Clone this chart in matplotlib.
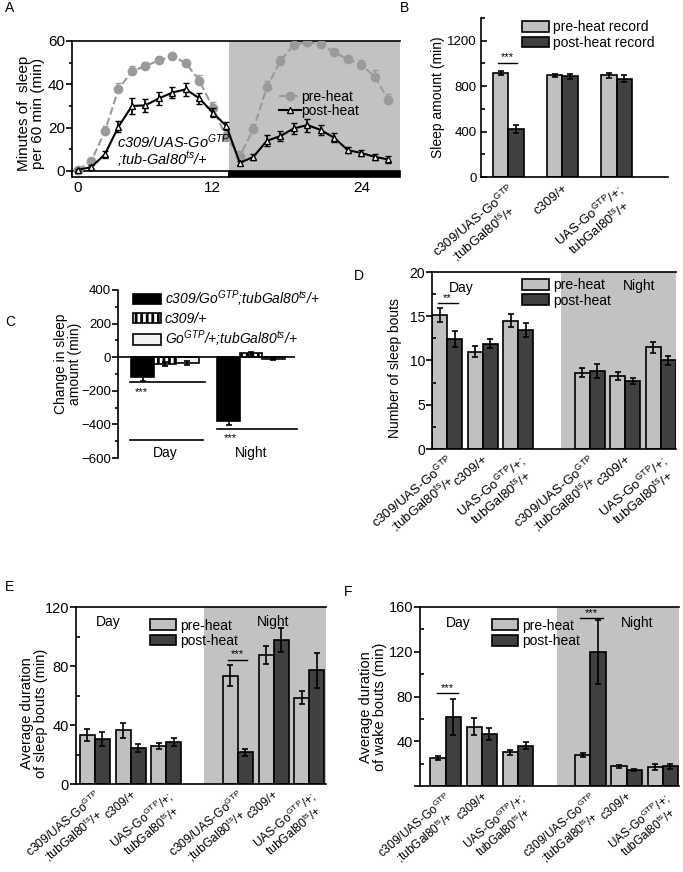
import matplotlib
matplotlib.use("Agg")
import matplotlib.pyplot as plt
from matplotlib.patches import Rectangle, Patch
from matplotlib.lines import Line2D
from matplotlib.ticker import MultipleLocator
import numpy as np

plt.rcParams["font.family"] = ["Liberation Sans", "DejaVu Sans"]
plt.rcParams["mathtext.fontset"] = "custom"
plt.rcParams["mathtext.rm"] = "Liberation Sans"
plt.rcParams["mathtext.it"] = "Liberation Sans:italic"
plt.rcParams["font.size"] = 10
plt.rcParams["axes.linewidth"] = 1.2
plt.rcParams["hatch.linewidth"] = 2.0

# ---- panel A: hourly sleep profile ----
a_hour = list(range(24))
a_pre = [0.5, 4.6, 18.4, 37.7, 46, 48.5, 51, 53, 49.8, 41.7, 29.2, 15.5,
         7, 19.2, 38.6, 50.7, 58.3, 59.4, 58.6, 54.7, 51.6, 49, 43.6, 32.8]
a_pre_err = [0.5, 1.5, 2.5, 3, 2.5, 2, 1.5, 1, 1, 2.5, 2.5, 2.5,
             2, 2.5, 3, 2.5, 1, 0.5, 0.5, 1.5, 1.5, 2, 3, 2.5]
a_post = [0.5, 1.8, 7.7, 20.4, 30, 30.3, 33.5, 36.2, 37.7, 33.5, 26.9, 20.7,
          3.7, 6.5, 13.9, 16.1, 19.6, 21.2, 18.9, 15.3, 9.6, 8.3, 6.5, 5.3]
a_post_err = [0.5, 1, 1.5, 2.5, 3.5, 3, 3, 2.5, 3, 2.5, 2, 2,
              1, 1.5, 2.5, 2.5, 2.5, 3, 2.5, 2, 1.5, 1.5, 1.5, 1.5]
a_tick_labels = ["0", "12", "24"]

# ---- panel B: total sleep ----
b_pre = [915, 895, 895]
b_pre_err = [20, 12, 25]
b_post = [425, 885, 865]
b_post_err = [35, 18, 30]

# ---- panel C: change in sleep ----
c_day = [-118, -40, -32]
c_day_err = [22, 12, 12]
c_night = [-382, 24, -12]
c_night_err = [20, 8, 5]
c_labels = [r"c309/Go$^{GTP}$;tubGal80$^{ts}$/+", "c309/+",
            r"Go$^{GTP}$/+;tubGal80$^{ts}$/+"]

# ---- panel D/E/F ----
d_pre = [15.1, 11.0, 14.5, 8.6, 8.3, 11.5]
d_pre_err = [0.8, 0.6, 0.7, 0.5, 0.45, 0.6]
d_post = [12.4, 11.9, 13.4, 8.8, 7.7, 10.0]
d_post_err = [0.9, 0.5, 0.8, 0.8, 0.35, 0.5]

e_pre = [33, 36.5, 26, 73.5, 87.5, 58.5]
e_pre_err = [4, 5, 2, 7, 6, 4.5]
e_post = [30.5, 24.5, 28.5, 21.5, 97.5, 77]
e_post_err = [5, 2.5, 2.5, 2.5, 8, 12]

f_pre = [25, 53, 30, 27.5, 17.5, 17]
f_pre_err = [2, 7.5, 2, 2, 1.5, 2.5]
f_post = [61.5, 46.5, 36, 120, 14, 17.5]
f_post_err = [16, 5, 3, 28.5, 1, 2]

geno_labels = [r"c309/UAS-Go$^{\mathrm{GTP}}$" + "\n" + r";tubGal80$^{\mathrm{ts}}$/+",
               "c309/+",
               r"UAS-Go$^{\mathrm{GTP}}$/+;" + "\n" + r"tubGal80$^{\mathrm{ts}}$/+"]

LIGHT = "#c0c0c0"
DARK = "#404040"
SHADE = "#c2c2c2"

W, H = 683, 872
fig = plt.figure(figsize=(W / 100, H / 100), dpi=100)


def px_axes(left, top, right, bottom):
    return fig.add_axes([left / W, 1 - bottom / H, (right - left) / W, (bottom - top) / H])


def ylab(ax, text, x, y, size):
    ax.set_ylabel(text, va="center", fontsize=size, linespacing=1.0)
    ax.yaxis.set_label_coords(x, y)


ERR = dict(elinewidth=1.2, capthick=1.2)

# ================= A =================
ax = px_axes(72, 41, 400, 177)
xmin, xmax, split = -0.44, 23.87, 11.23
ax.set_xlim(xmin, xmax)
ax.set_ylim(-2.8, 60)
ax.add_patch(Rectangle((split, 0), xmax - split, 60, color=SHADE, zorder=0, lw=0))
ax.add_patch(Rectangle((xmin, -2.8), split - xmin, 2.8, facecolor="white",
                       edgecolor="black", lw=1.2, zorder=3, clip_on=False))
ax.add_patch(Rectangle((split, -2.8), xmax - split, 2.8, facecolor="black",
                       edgecolor="black", lw=1.2, zorder=3, clip_on=False))
ax.errorbar(a_hour, a_pre, yerr=[np.zeros(24), a_pre_err], fmt="o--", color="#9a9a9a",
            ms=6, lw=1.5, capsize=2.5, elinewidth=1.2, zorder=4)
ax.errorbar(a_hour, a_post, yerr=a_post_err, fmt="^-", color="black", mfc="white",
            ms=5, lw=1.5, capsize=2.5, elinewidth=1.2, zorder=5)
ax.spines["right"].set_visible(False)
ax.spines["bottom"].set_visible(False)
ax.set_yticks([0, 20, 40, 60])
ax.yaxis.set_minor_locator(MultipleLocator(10))
ax.tick_params(axis="y", which="major", length=4, width=1.2, labelsize=11, pad=1)
ax.tick_params(axis="y", which="minor", length=2.5, width=1.2)
ax.set_xticks([0, 10, 21])
ax.set_xticklabels(a_tick_labels)
ax.tick_params(axis="x", length=0, labelsize=11, pad=3)
ylab(ax, "Minutes of  sleep\nper 60 min (min)", -0.125, 0.47, 11)
ax.text(2.9, 0.9, r"c309/UAS-Go$^{GTP}$" + "\n" + r";tub-Gal80$^{ts}$/+",
        fontsize=10.5, style="italic", va="bottom", ha="left", linespacing=0.9, zorder=6)
ax.legend(handles=[Line2D([], [], color="#9a9a9a", ls="--", marker="o", ms=6, lw=1.5),
                   Line2D([], [], color="black", marker="^", mfc="white", ms=5, lw=1.5)],
          labels=["pre-heat", "post-heat"], loc="upper left", bbox_to_anchor=(0.63, 0.64),
          frameon=False, handlelength=1.6, handletextpad=0.05, labelspacing=0.0,
          fontsize=10, borderpad=0, borderaxespad=0)

# ================= B =================
ax = px_axes(481, 18, 668, 177)
ax.set_xlim(-0.506, 2.95)
ax.set_ylim(0, 1400)
bw = 0.29
gx = np.arange(3)
ax.bar(gx - bw / 2, b_pre, bw, yerr=b_pre_err, color=LIGHT, edgecolor="black", lw=1.2,
       capsize=2.5, error_kw=ERR, label="pre-heat record")
ax.bar(gx + bw / 2, b_post, bw, yerr=b_post_err, color=DARK, edgecolor="black", lw=1.2,
       capsize=2.5, error_kw=ERR, label="post-heat record")
for s in ["top", "right"]:
    ax.spines[s].set_visible(False)
ax.set_yticks([0, 400, 800, 1200])
ax.yaxis.set_minor_locator(MultipleLocator(200))
ax.tick_params(axis="y", which="major", direction="in", length=4, width=1.2, labelsize=9.5, pad=3)
ax.tick_params(axis="y", which="minor", direction="in", length=3, width=1.2)
ax.set_xticks(gx)
ax.set_xticklabels(geno_labels, rotation=40, ha="right", rotation_mode="anchor",
                   fontsize=9.5, multialignment="center", linespacing=1.0)
ax.tick_params(axis="x", length=0, pad=4)
ylab(ax, "Sleep amount (min)", -0.23, 0.5, 10)
ax.plot([-0.19, 0.16], [1003, 1003], color="black", lw=1)
ax.text(-0.015, 1010, "***", ha="center", va="bottom", fontsize=8)
ax.legend(loc="upper left", bbox_to_anchor=(0.22, 0.985), frameon=False, fontsize=10,
          handlelength=1.9, handleheight=0.8, handletextpad=0.3, labelspacing=0.1,
          borderpad=0, borderaxespad=0)

# ================= C =================
ax = px_axes(118, 290, 295, 458)
ax.set_xlim(-0.545, 1.51)
ax.set_ylim(-600, 400)
cw = 0.26
styles = [dict(facecolor="black", edgecolor="black"),
          dict(facecolor="white", edgecolor="black", hatch="|||"),
          dict(facecolor="#f2f2f2", edgecolor="black")]
for i in range(3):
    ax.bar([0 + (i - 1) * cw, 1 + (i - 1) * cw], [c_day[i], c_night[i]], cw,
           yerr=[c_day_err[i], c_night_err[i]], lw=1.2, capsize=2.5,
           error_kw=ERR, **styles[i])
ax.axhline(0, color="black", lw=1.2, zorder=5)
for s in ["top", "right", "bottom"]:
    ax.spines[s].set_visible(False)
ax.set_xticks([])
ax.set_yticks([-600, -400, -200, 0, 200, 400])
ax.yaxis.set_minor_locator(MultipleLocator(100))
ax.tick_params(axis="y", which="major", length=4, width=1.2, labelsize=9.5, pad=1)
ax.tick_params(axis="y", which="minor", length=2.5, width=1.2)
ylab(ax, "Change in sleep\namount (min)", -0.28, 0.56, 10)
ax.plot([-0.41, 0.46], [-148, -148], color="black", lw=1.2)
ax.plot([-0.41, 0.44], [-490, -490], color="black", lw=1.2)
ax.plot([0.61, 1.53], [-430, -430], color="black", lw=1.2, clip_on=False)
ax.text(-0.27, -175, "***", ha="center", va="top", fontsize=8)
ax.text(0.76, -450, "***", ha="center", va="top", fontsize=8)
ax.text(0.0, -530, "Day", ha="center", va="top", fontsize=10)
ax.text(1.0, -530, "Night", ha="center", va="top", fontsize=10)
ax.legend(handles=[Patch(lw=1.2, **st) for st in styles], labels=c_labels,
          loc="upper left", bbox_to_anchor=(0.085, 1.01), frameon=False,
          prop=dict(size=10, style="italic"),
          handlelength=2.0, handleheight=0.8, handletextpad=0.3, labelspacing=0.2,
          borderpad=0, borderaxespad=0)


# ================= D / E / F =================
def bout_panel(box, pre, pre_err, post, post_err, xlim, split, ylim, major, minor,
               ylabel, lab_xy, leg_anchor, day_xy, night_xy, size, tsize, hide_zero=False):
    ax = px_axes(*box)
    pos = np.array([0, 1, 2, 4, 5, 6])
    w = 0.42
    ax.set_xlim(*xlim)
    ax.set_ylim(*ylim)
    ax.axvspan(split, xlim[1], color=SHADE, lw=0, zorder=0)
    ax.bar(pos - w / 2, pre, w, yerr=pre_err, color=LIGHT, edgecolor="black", lw=1.2,
           capsize=2.5, error_kw=ERR, label="pre-heat")
    ax.bar(pos + w / 2, post, w, yerr=post_err, color=DARK, edgecolor="black", lw=1.2,
           capsize=2.5, error_kw=ERR, label="post-heat")
    ax.spines["right"].set_visible(False)
    ax.set_yticks(major)
    if hide_zero:
        ax.set_yticklabels([""] + [str(v) for v in major[1:]])
    ax.yaxis.set_minor_locator(MultipleLocator(minor))
    ax.tick_params(axis="y", which="major", length=4, width=1.2, labelsize=size, pad=1)
    ax.tick_params(axis="y", which="minor", direction="in", length=3, width=1.2)
    ax.set_xticks(pos)
    ax.set_xticklabels(geno_labels * 2, rotation=40, ha="right", rotation_mode="anchor",
                       fontsize=tsize, multialignment="center", linespacing=0.95)
    ax.tick_params(axis="x", length=0, pad=3)
    ylab(ax, ylabel, *lab_xy, size)
    ax.text(*day_xy, "Day", ha="center", va="center", fontsize=10)
    ax.text(*night_xy, "Night", ha="center", va="center", fontsize=10)
    ax.legend(loc="upper left", bbox_to_anchor=leg_anchor, frameon=False, fontsize=10,
              handlelength=1.9, handleheight=0.8, handletextpad=0.3, labelspacing=0.1,
              borderpad=0, borderaxespad=0)
    return ax


ax = bout_panel((432, 272, 676, 449), d_pre, d_pre_err, d_post, d_post_err,
                (-0.43, 6.43), 3.2, (0, 20), [0, 5, 10, 15, 20], 2.5,
                "Number of sleep bouts", (-0.15, 0.46), (0.37, 0.965), (0.4, 18.2), (5.4, 18.4),
                10, 9.5)
ax.plot([-0.27, 0.29], [16.5, 16.5], color="black", lw=1)
ax.text(0.01, 16.5, "**", ha="center", va="bottom", fontsize=8)

ax = bout_panel((76, 607, 326, 784), e_pre, e_pre_err, e_post, e_post_err,
                (-0.53, 6.47), 3.05, (0, 120), [0, 40, 80, 120], 20,
                "Average duration\nof sleep bouts (min)", (-0.17, 0.4), (0.296, 0.935),
                (0.37, 109.5), (5.0, 110), 10.5, 8.7)
ax.plot([3.73, 4.26], [84, 84], color="black", lw=1)
ax.text(4.0, 84.5, "***", ha="center", va="bottom", fontsize=8)

ax = bout_panel((420, 607, 679, 786), f_pre, f_pre_err, f_post, f_post_err,
                (-0.71, 6.45), 3.07, (0, 160), [0, 40, 80, 120, 160], 20,
                "Average duration\nof wake bouts (min)", (-0.18, 0.44), (0.278, 0.935),
                (0.35, 146), (5.3, 146), 10.5, 8.6, hide_zero=True)
ax.plot([-0.24, 0.34], [83, 83], color="black", lw=1)
ax.text(0.05, 83.5, "***", ha="center", va="bottom", fontsize=8)
ax.plot([3.71, 4.35], [150, 150], color="black", lw=1)
ax.text(4.03, 150.5, "***", ha="center", va="bottom", fontsize=8)

# panel letters
for letter, x, y in [("A", 5, 8), ("B", 400, 8), ("C", 5, 322), ("D", 354, 276),
                     ("E", 5, 587), ("F", 344, 592)]:
    fig.text(x / W, 1 - y / H, letter, fontsize=10, ha="left", va="center")

fig.savefig("out.png", dpi=100)
